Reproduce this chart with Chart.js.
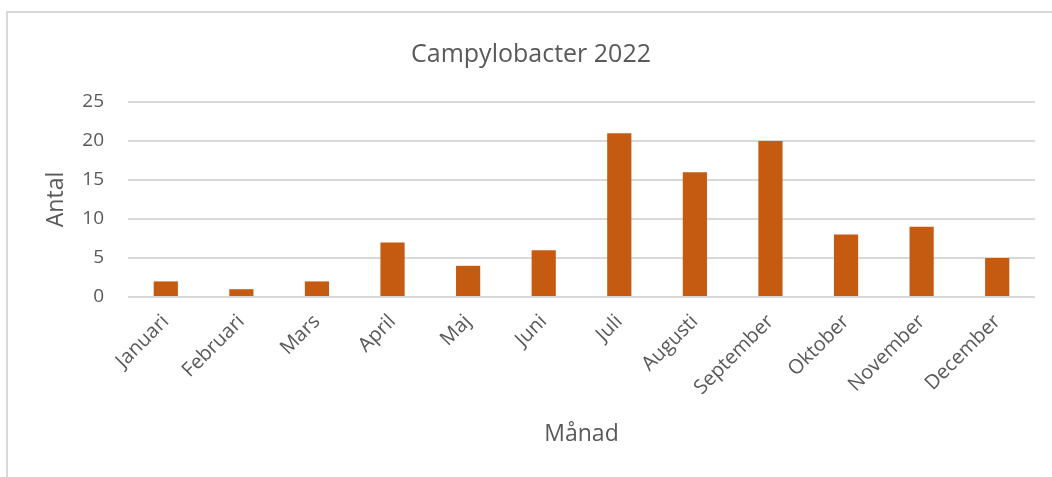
<!DOCTYPE html>
<html lang="sv">
<head>
    <meta charset="UTF-8">
    <title>Campylobacter 2022</title>
    <script src="https://cdn.jsdelivr.net/npm/chart.js"></script>
    <style>
        body {
            margin: 0;
            padding: 0;
            background-color: #ffffff;
            overflow: hidden;
        }

        .frame {
            position: absolute;
            left: 6px;
            top: 11px;
            width: 1100px;
            height: 600px;
            border: 2px solid #d9d9d9;
        }

        .chart-container {
            position: absolute;
            left: 0;
            top: 0;
            width: 1052px;
            height: 477px;
        }
    </style>
</head>
<body>
    <div class="frame"></div>
    <div class="chart-container">
        <canvas id="campylobacter-chart"></canvas>
    </div>

    <script>
        // Antal fall per månad
        const months = ["Januari", "Februari", "Mars", "April", "Maj", "Juni",
                        "Juli", "Augusti", "September", "Oktober", "November", "December"];
        const counts = [2, 1, 2, 7, 4, 6, 21, 16, 20, 8, 9, 5];
        const yTicks = [0, 5, 10, 15, 20, 25];

        const textColor = "#595959";
        const fontFamily = "'Open Sans', sans-serif";

        const ctx = document.getElementById("campylobacter-chart").getContext("2d");

        new Chart(ctx, {
            type: "bar",
            data: {
                labels: months,
                datasets: [{
                    label: "Antal",
                    data: counts,
                    backgroundColor: "#c55a11",
                    barPercentage: 0.32,
                    categoryPercentage: 1.0
                }]
            },
            options: {
                responsive: true,
                maintainAspectRatio: false,
                animation: false,
                layout: {
                    padding: { top: 30, left: 27, right: 17, bottom: 0 }
                },
                plugins: {
                    legend: { display: false },
                    tooltip: { enabled: false },
                    title: {
                        display: true,
                        text: "Campylobacter 2022",
                        color: textColor,
                        font: { family: fontFamily, size: 25, weight: "normal" },
                        padding: { top: 10, bottom: 32 }
                    }
                },
                scales: {
                    x: {
                        grid: { display: false },
                        border: { display: false },
                        ticks: {
                            color: textColor,
                            font: { family: fontFamily, size: 20 },
                            minRotation: 45,
                            maxRotation: 45,
                            padding: 5
                        },
                        title: {
                            display: true,
                            text: "Månad",
                            color: textColor,
                            font: { family: fontFamily, size: 23 },
                            padding: { top: 4, bottom: 29 }
                        },
                        afterFit: (scale) => { scale.height = 180; }
                    },
                    y: {
                        min: 0,
                        max: 25,
                        afterBuildTicks: (scale) => {
                            scale.ticks = yTicks.map((v) => ({ value: v }));
                        },
                        grid: {
                            color: "#d9d9d9",
                            lineWidth: 2,
                            drawTicks: false
                        },
                        border: { display: false },
                        ticks: {
                            color: textColor,
                            font: { family: fontFamily, size: 19 },
                            padding: 24
                        },
                        title: {
                            display: true,
                            text: "Antal",
                            color: textColor,
                            font: { family: fontFamily, size: 23 },
                            padding: { top: 16, bottom: 4 }
                        },
                        afterFit: (scale) => { scale.width = 101; }
                    }
                }
            }
        });
    </script>
</body>
</html>
